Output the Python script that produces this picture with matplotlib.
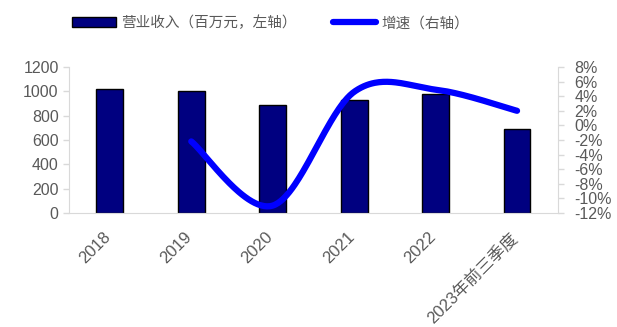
import numpy as np
import matplotlib
matplotlib.use("Agg")
import matplotlib.pyplot as plt
from matplotlib.patches import Patch
from matplotlib.lines import Line2D

categories = ["2018", "2019", "2020", "2021", "2022", "2023年前三季度"]
revenue = [1020, 1000, 888, 929, 975, 693]
growth_x = [1, 2, 3, 4, 5]
growth = [-2.2, -11.0, 4.6, 4.9, 2.0]

plt.rcParams['font.family'] = ['Liberation Sans', 'Noto Sans CJK SC']
GRAY = '#595959'
SPINE = '#d9d9d9'

fig = plt.figure(figsize=(6.17, 3.27), dpi=100)
ax = fig.add_axes([0.112, 0.349, 0.792, 0.446])
x = np.arange(len(categories))
ax.bar(x, revenue, width=0.33, color='#000080', edgecolor='black', linewidth=1.0, zorder=2)
ax.set_xlim(-0.5, len(categories) - 0.5)
ax.set_ylim(0, 1200)
ax.set_yticks(range(0, 1201, 200))
ax.set_xticks(x + 0.04)
ax.set_xticklabels(categories, rotation=45, ha='right')
for s in ['top', 'right']:
    ax.spines[s].set_visible(False)
ax.spines['left'].set_color(SPINE)
ax.spines['bottom'].set_color(SPINE)
ax.tick_params(axis='y', colors=SPINE, labelcolor=GRAY, labelsize=11.5, length=4, width=1)
ax.tick_params(axis='x', colors=SPINE, labelcolor=GRAY, labelsize=12, length=0, pad=12)

ax2 = ax.twinx()
ax2.set_ylim(-12, 8)
ax2.set_yticks(range(-12, 9, 2))
ax2.set_yticklabels([f"{v}%" for v in range(-12, 9, 2)])
for s in ['top', 'left', 'bottom']:
    ax2.spines[s].set_visible(False)
ax2.spines['right'].set_color(SPINE)
ax2.tick_params(axis='y', colors=SPINE, labelcolor=GRAY, labelsize=11.5, length=4, width=1, pad=8)

# Catmull-Rom smoothing (Excel-like smoothed line)
px = np.array(growth_x, float)
py = np.array(growth, float)
P = np.column_stack([px, py])
P_ext = np.vstack([P[0], P, P[-1]])
xs, ys = [], []
for i in range(1, len(P_ext) - 2):
    p0, p1, p2, p3 = P_ext[i - 1], P_ext[i], P_ext[i + 1], P_ext[i + 2]
    t = np.linspace(0, 1, 60)[:, None]
    c1 = p1 + (p2 - p0) / 6
    c2 = p2 - (p3 - p1) / 6
    seg = (1 - t) ** 3 * p1 + 3 * (1 - t) ** 2 * t * c1 + 3 * (1 - t) * t ** 2 * c2 + t ** 3 * p2
    xs.extend(seg[:, 0]); ys.extend(seg[:, 1])
ax2.plot(xs, ys, color='#0000ff', linewidth=4.5, solid_capstyle='round', zorder=3)

handles = [Patch(facecolor='#000080', edgecolor='black', linewidth=1.0),
           Line2D([0], [0], color='#0000ff', linewidth=4.5, solid_capstyle='round')]
labels = ['营业收入（百万元，左轴）', '增速（右轴）']
leg = fig.legend(handles, labels, loc='center left', bbox_to_anchor=(0.1, 0.93), ncol=2,
                 frameon=False, handlelength=3.0, handleheight=0.69,
                 handletextpad=0.35, columnspacing=2.5, borderpad=0.2,
                 prop={'family': ['Noto Sans CJK SC'], 'size': 10.5})
for t in leg.get_texts():
    t.set_color(GRAY)

fig.savefig('out.png', dpi=100)
